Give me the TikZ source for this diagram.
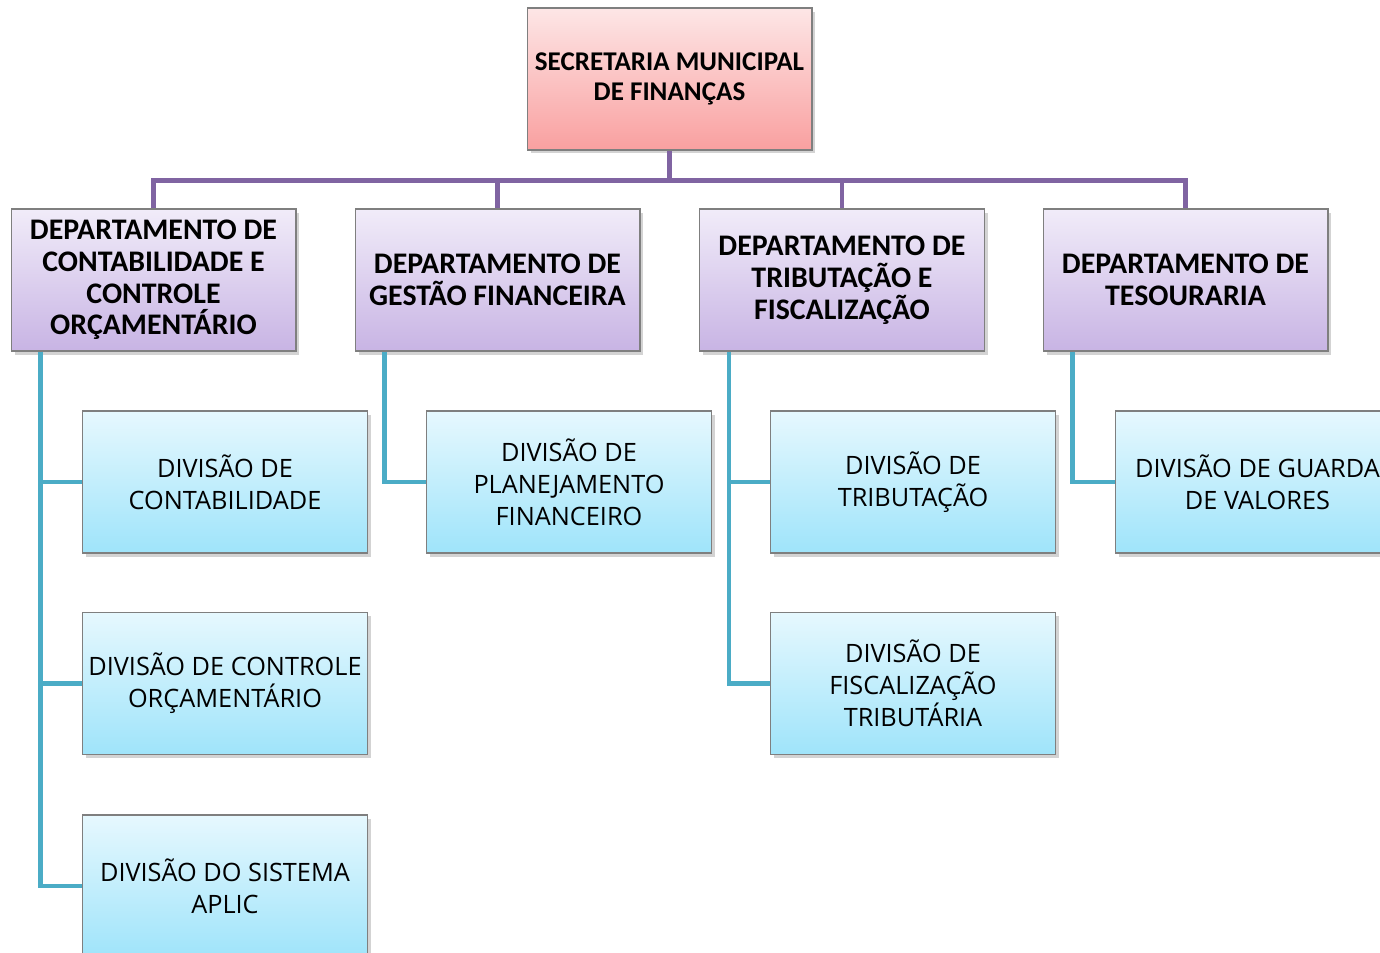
\documentclass[tikz,border=0pt]{standalone}
\usepackage{fontspec}
\setmainfont{Carlito}
\newfontfamily\divfont{Open Sans}
\usetikzlibrary{calc,shadows}
\definecolor{ligroxo}{HTML}{8064A2}
\definecolor{ligazul}{HTML}{4BACC6}
\definecolor{borda}{HTML}{7F7F7F}
\definecolor{secA}{HTML}{FDE6E6}
\definecolor{secB}{HTML}{F9A0A0}
\definecolor{depA}{HTML}{F1ECF9}
\definecolor{depB}{HTML}{C8B4E4}
\definecolor{divA}{HTML}{E6F8FE}
\definecolor{divB}{HTML}{9FE4FA}

\begin{document}
\begin{tikzpicture}[x=0.02cm,y=-0.02cm,
  caixa/.style={draw=borda,line width=.6pt,minimum width=5.7cm,minimum height=2.84cm,
    align=center,drop shadow={shadow xshift=2pt,shadow yshift=-2pt,opacity=.35}},
  sec/.style={caixa,top color=secA,bottom color=secB,font=\bfseries\fontsize{15.4}{17}\selectfont},
  dep/.style={caixa,top color=depA,bottom color=depB,font=\bfseries\fontsize{17}{18.1}\selectfont},
  div/.style={caixa,top color=divA,bottom color=divB,font=\divfont\fontsize{14.4}{18.1}\selectfont},
  lig1/.style={draw=ligroxo,line width=2.3pt},
  lig2/.style={draw=ligazul,line width=2.8pt}]
  \clip (0,0) rectangle (1380,953);
  % Secretaria
  \node[sec] (sec) at (669.5,79) {SECRETARIA MUNICIPAL\\DE FINANÇAS};
  % Departamentos
  \node[dep] (dep1) at (153.5,280) {DEPARTAMENTO DE\\CONTABILIDADE E\\CONTROLE\\ORÇAMENTÁRIO};
  \node[dep] (dep2) at (497.5,280) {DEPARTAMENTO DE\\GESTÃO FINANCEIRA};
  \node[dep] (dep3) at (842,280) {DEPARTAMENTO DE\\TRIBUTAÇÃO E\\FISCALIZAÇÃO};
  \node[dep] (dep4) at (1185.5,280) {DEPARTAMENTO DE\\TESOURARIA};
  % Divisoes
  \node[div] (div11) at (225,482) {DIVISÃO DE\\CONTABILIDADE};
  \node[div] (div12) at (225,683.5) {DIVISÃO DE CONTROLE\\ORÇAMENTÁRIO};
  \node[div] (div13) at (225,886) {DIVISÃO DO SISTEMA\\APLIC};
  \node[div] (div21) at (569,482) {DIVISÃO DE\\PLANEJAMENTO\\FINANCEIRO};
  \node[div] (div31) at (913,482) {DIVISÃO DE\\TRIBUTAÇÃO};
  \node[div] (div32) at (913,683.5) {DIVISÃO DE\\FISCALIZAÇÃO\\TRIBUTÁRIA};
  \node[div] (div41) at (1257.5,482) {DIVISÃO DE GUARDA\\DE VALORES};
  % Ligacoes
  \coordinate (bus) at ($(sec.south)+(0,30)$);
  \draw[lig1] (sec.south) -- (bus);
  \foreach\d in {dep1,dep2,dep3,dep4}
    \draw[lig1] (bus) -| (\d.north);
  \foreach\d/\v in {dep1/div11,dep1/div12,dep1/div13,dep2/div21,dep3/div31,dep3/div32,dep4/div41}
    \draw[lig2] ($(\d.south west)+(30,0)$) |- (\v.west);
\end{tikzpicture}
\end{document}
